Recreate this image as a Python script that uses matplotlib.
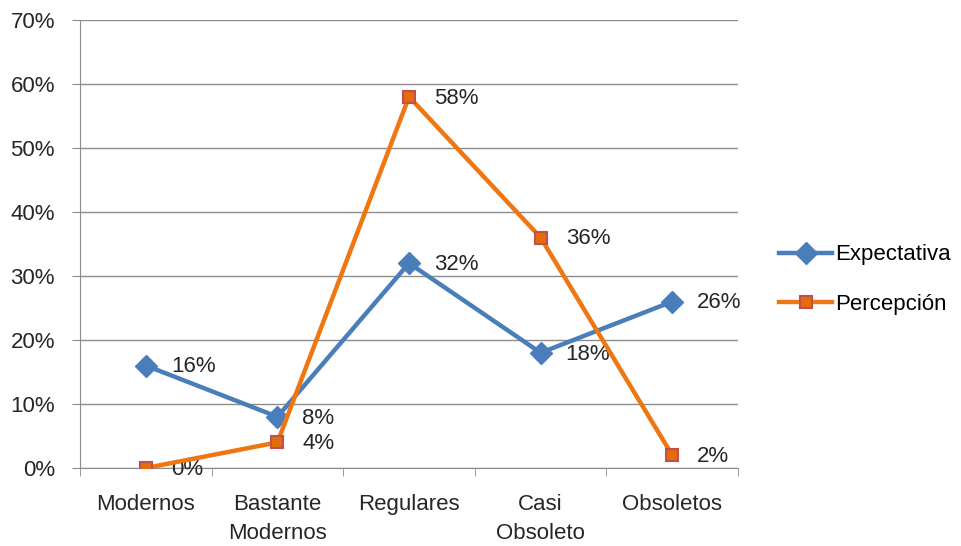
import numpy as np
import matplotlib.pyplot as plt

plt.rcParams["font.family"] = ["Liberation Sans", "DejaVu Sans"]

categories = ["Modernos", "Bastante\nModernos", "Regulares", "Casi\nObsoleto", "Obsoletos"]
expectativa = [16, 8, 32, 18, 26]
percepcion = [0, 4, 58, 36, 2]
yticks = [0, 10, 20, 30, 40, 50, 60, 70]

blue = "#4A7EBB"
orange = "#EE7712"
txt = "#262626"
fs = 16

fig = plt.figure(figsize=(9.62, 5.46), dpi=100)
ax = fig.add_axes([0.0832, 0.1429, 0.684, 0.8205])

x = np.arange(len(categories))
ax.plot(x, expectativa, color=blue, lw=3.2, marker="D", ms=11,
        mfc=blue, mec=blue, label="Expectativa", zorder=3)
ax.plot(x, percepcion, color=orange, lw=3.2, marker="s", ms=9,
        mfc="#E46C0A", mec="#C0504D", mew=1.5, label="Percepción", zorder=4)

for xi, v in zip(x, expectativa):
    ax.annotate(f"{v}%", (xi, v), xytext=(18, -1), textcoords="offset points",
                va="center", ha="left", fontsize=fs, color=txt)
for xi, v in zip(x, percepcion):
    ax.annotate(f"{v}%", (xi, v), xytext=(18, -1), textcoords="offset points",
                va="center", ha="left", fontsize=fs, color=txt)

ax.set_xlim(-0.5, len(categories) - 0.5)
ax.set_ylim(0, 70)
ax.set_yticks(yticks)
ax.set_yticklabels([f"{t}%" for t in yticks])
ax.set_xticks(x)
ax.set_xticklabels(categories, va="top", linespacing=1.45)
ax.set_xticks(np.arange(len(categories) + 1) - 0.5, minor=True)

ax.grid(axis="y", color="#8C8C8C", lw=1)
ax.set_axisbelow(True)
for s in ["top", "right"]:
    ax.spines[s].set_visible(False)
ax.spines["left"].set_color("#8C8C8C")
ax.spines["bottom"].set_color("#8C8C8C")
ax.tick_params(axis="y", length=6, color="#8C8C8C", labelsize=fs, labelcolor=txt, pad=12)
ax.tick_params(axis="x", which="major", length=0, labelsize=fs, labelcolor=txt, pad=19)
ax.tick_params(axis="x", which="minor", length=6, color="#8C8C8C")

ax.legend(loc="center left", bbox_to_anchor=(1.062, 0.42), frameon=False,
          fontsize=fs, handlelength=2.4, labelspacing=1.3, handletextpad=0.15,
          borderaxespad=0, borderpad=0)

fig.savefig("out.png", dpi=100)
